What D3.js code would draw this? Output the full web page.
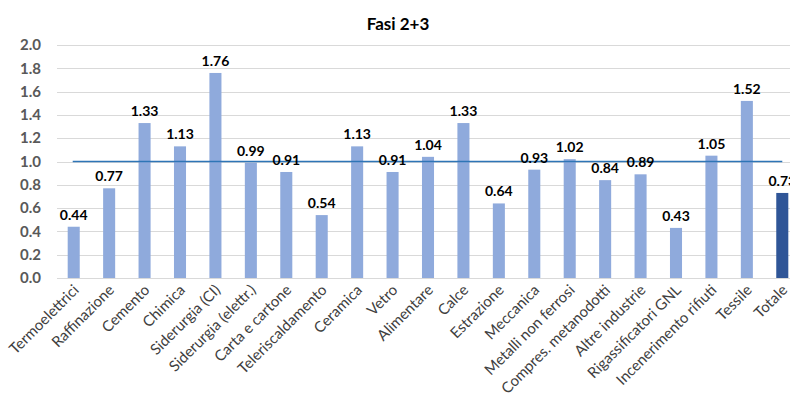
<!DOCTYPE html>
<html>
<head>
<meta charset="utf-8">
<script src="https://cdn.jsdelivr.net/npm/d3@7/dist/d3.min.js"></script>
<style>
  html, body { margin: 0; padding: 0; background: #ffffff; }
  svg { display: block; font-family: Lato, "Open Sans", sans-serif; }
</style>
</head>
<body>
<svg id="chart" width="790" height="396"></svg>
<script>
const categories = [
  "Termoelettrici", "Raffinazione", "Cemento", "Chimica", "Siderurgia (CI)",
  "Siderurgia (elettr.)", "Carta e cartone", "Teleriscaldamento", "Ceramica", "Vetro",
  "Alimentare", "Calce", "Estrazione", "Meccanica", "Metalli non ferrosi",
  "Compres. metanodotti", "Altre industrie", "Rigassificatori GNL", "Incenerimento rifiuti",
  "Tessile", "Totale"
];
const values = [
  0.44, 0.77, 1.33, 1.13, 1.76,
  0.99, 0.91, 0.54, 1.13, 0.91,
  1.04, 1.33, 0.64, 0.93, 1.02,
  0.84, 0.89, 0.43, 1.05,
  1.52, 0.73
];
const yTicks = [0, 0.2, 0.4, 0.6, 0.8, 1.0, 1.2, 1.4, 1.6, 1.8, 2.0];
const referenceValue = 1.0;
const totalCategory = "Totale";
const chartTitle = "Fasi 2+3";

const svg = d3.select("#chart");

const x = d3.scaleBand()
  .domain(categories)
  .range([56, 800])
  .paddingInner(0.66)
  .paddingOuter(0.33);

const y = d3.scaleLinear()
  .domain([0, 2])
  .range([278, 45]);

// horizontal gridlines
svg.append("g")
  .selectAll("line")
  .data(yTicks)
  .join("line")
  .attr("x1", 57)
  .attr("x2", 790)
  .attr("y1", d => Math.round(y(d)) + 0.5)
  .attr("y2", d => Math.round(y(d)) + 0.5)
  .attr("stroke", "#d9d9d9")
  .attr("stroke-width", 1);

// y axis tick labels
svg.append("g")
  .selectAll("text")
  .data(yTicks)
  .join("text")
  .attr("x", 41)
  .attr("y", d => y(d))
  .attr("dy", "0.35em")
  .attr("text-anchor", "end")
  .attr("font-size", 15)
  .attr("font-weight", "bold")
  .attr("fill", "#595959")
  .text(d => d.toFixed(1));

// bars
svg.append("g")
  .selectAll("rect")
  .data(categories)
  .join("rect")
  .attr("x", d => x(d))
  .attr("width", x.bandwidth())
  .attr("y", (d, i) => y(values[i]))
  .attr("height", (d, i) => y(0) - y(values[i]))
  .attr("fill", d => d === totalCategory ? "#2f5597" : "#8faadc");

// reference line at 1.0
const firstC = x(categories[0]) + x.bandwidth() / 2;
const lastC = x(categories[categories.length - 1]) + x.bandwidth() / 2;
svg.append("line")
  .attr("x1", firstC - 1)
  .attr("x2", lastC)
  .attr("y1", y(referenceValue))
  .attr("y2", y(referenceValue))
  .attr("stroke", "#2e75b6")
  .attr("stroke-width", 1.5);

// value labels
svg.append("g")
  .selectAll("text")
  .data(categories)
  .join("text")
  .attr("x", d => x(d) + x.bandwidth() / 2)
  .attr("y", (d, i) => y(values[i]) - 7)
  .attr("text-anchor", "middle")
  .attr("font-size", 14)
  .attr("font-weight", "bold")
  .attr("fill", "#000000")
  .text((d, i) => values[i].toFixed(2));

// rotated category labels
svg.append("g")
  .selectAll("text")
  .data(categories)
  .join("text")
  .attr("text-anchor", "end")
  .attr("font-size", 15)
  .attr("fill", "#404040")
  .attr("transform", d => `translate(${x(d) + x.bandwidth() / 2 + 6},${291}) rotate(-45)`)
  .text(d => d);

// title
svg.append("text")
  .attr("x", 398)
  .attr("y", 30)
  .attr("text-anchor", "middle")
  .attr("font-size", 17)
  .attr("font-weight", "bold")
  .attr("fill", "#000000")
  .text(chartTitle);
</script>
</body>
</html>
